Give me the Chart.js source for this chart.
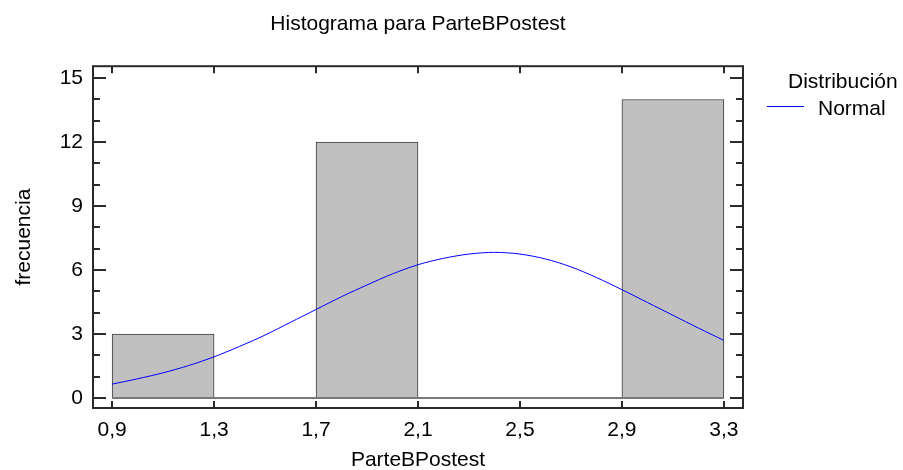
<!DOCTYPE html>
<html>
<head>
<meta charset="utf-8">
<script src="https://cdn.jsdelivr.net/npm/chart.js@4.4.1/dist/chart.umd.min.js"></script>
<style>
  html, body { margin: 0; padding: 0; background: #fff; }
  #wrap { width: 903px; height: 470px; }
</style>
</head>
<body>
<div id="wrap"><canvas id="histChart" width="903" height="470"></canvas></div>
<script>
// histogram bins (edges) and counts
const binEdges = [0.9, 1.3, 1.7, 2.1, 2.5, 2.9, 3.3];
const binCounts = [3, 0, 12, 0, 0, 14];

// fitted normal curve
const curveX = [0.9, 1.0, 1.1, 1.2, 1.3, 1.4, 1.5, 1.6, 1.7, 1.8, 1.9, 2.0, 2.1,
                2.2, 2.3, 2.4, 2.5, 2.6, 2.7, 2.8, 2.9, 3.0, 3.1, 3.2, 3.3];
const curveY = [0.65, 0.9, 1.18, 1.52, 1.93, 2.42, 2.95, 3.55, 4.15, 4.75, 5.3, 5.82, 6.25,
                6.55, 6.75, 6.83, 6.75, 6.52, 6.15, 5.65, 5.08, 4.48, 3.88, 3.28, 2.7];

// axis ticks
const xTicks = [0.9, 1.3, 1.7, 2.1, 2.5, 2.9, 3.3];
const yTicks = [0, 3, 6, 9, 12, 15];
const yMinorTicks = [0, 1, 2, 3, 4, 5, 6, 7, 8, 9, 10, 11, 12, 13, 14, 15];

const FONT = 'Arial, "Liberation Sans", sans-serif';
const legendTitle = 'Distribución';

// frame, inward ticks and the legend box on the right
const framePlugin = {
    id: 'frame',
    afterDatasetsDraw(chart) {
        const { ctx, chartArea: a, scales: { x, y } } = chart;
        ctx.save();
        ctx.strokeStyle = '#2a2a2a';
        ctx.lineWidth = 2;
        ctx.beginPath();
        yMinorTicks.forEach(v => {
            const py = Math.round(y.getPixelForValue(v));
            const len = yTicks.includes(v) ? 13 : 7;
            ctx.moveTo(a.left, py); ctx.lineTo(a.left + len, py);
            ctx.moveTo(a.right, py); ctx.lineTo(a.right - len, py);
        });
        xTicks.forEach(v => {
            const px = Math.round(x.getPixelForValue(v));
            ctx.moveTo(px, a.top); ctx.lineTo(px, a.top + 7);
            ctx.moveTo(px, a.bottom); ctx.lineTo(px, a.bottom - 7);
        });
        ctx.stroke();
        ctx.strokeRect(a.left, a.top, a.right - a.left, a.bottom - a.top);

        // legend
        const curve = chart.data.datasets.find(d => d.label === 'Normal');
        ctx.fillStyle = '#000';
        ctx.font = '21px ' + FONT;
        ctx.textAlign = 'left';
        ctx.textBaseline = 'alphabetic';
        ctx.fillText(legendTitle, 788, 88);
        ctx.fillText(curve.label, 818, 115);
        ctx.strokeStyle = curve.borderColor;
        ctx.lineWidth = 1;
        ctx.beginPath();
        ctx.moveTo(767, 106.5);
        ctx.lineTo(804, 106.5);
        ctx.stroke();
        ctx.restore();
    }
};

const ctx = document.getElementById('histChart').getContext('2d');
new Chart(ctx, {
    type: 'bar',
    data: {
        datasets: [
            {
                type: 'bar',
                label: 'frecuencia',
                data: binCounts.map((c, i) => ({ x: (binEdges[i] + binEdges[i + 1]) / 2, y: c })),
                backgroundColor: '#c0c0c0',
                borderColor: '#3c3c3c',
                borderWidth: 1,
                borderSkipped: false,
                barPercentage: 1,
                categoryPercentage: 1,
                order: 3
            },
            {
                type: 'line',
                label: 'base',
                data: [{ x: binEdges[0], y: 0 }, { x: binEdges[binEdges.length - 1], y: 0 }],
                borderColor: '#7a7a7a',
                borderWidth: 2,
                pointRadius: 0,
                order: 2
            },
            {
                type: 'line',
                label: 'Normal',
                data: curveX.map((v, i) => ({ x: v, y: curveY[i] })),
                borderColor: '#0000ff',
                borderWidth: 1,
                pointRadius: 0,
                tension: 0.3,
                order: 1
            }
        ]
    },
    options: {
        responsive: false,
        animation: false,
        events: [],
        layout: {
            padding: { left: 0, right: 160, top: 0, bottom: 0 }
        },
        plugins: {
            legend: { display: false },
            tooltip: { enabled: false },
            title: {
                display: true,
                text: 'Histograma para ParteBPostest',
                fullSize: false,
                color: '#000',
                font: { family: FONT, size: 21, weight: 'normal', lineHeight: 1.2 },
                padding: { top: 12, bottom: 29 }
            }
        },
        scales: {
            x: {
                type: 'linear',
                min: 0.825,
                max: 3.375,
                offset: false,
                grid: { display: false, drawTicks: false },
                border: { display: false },
                afterBuildTicks: s => { s.ticks = xTicks.map(v => ({ value: v })); },
                afterFit: s => { s.height = 62; },
                ticks: {
                    color: '#000',
                    font: { family: FONT, size: 21 },
                    padding: 10,
                    maxRotation: 0,
                    autoSkip: false,
                    callback: v => v.toFixed(1).replace('.', ',')
                },
                title: {
                    display: true,
                    text: 'ParteBPostest',
                    color: '#000',
                    font: { family: FONT, size: 21, lineHeight: 1 },
                    padding: { top: 0, bottom: -1 }
                }
            },
            y: {
                min: -0.47,
                max: 15.56,
                grid: { display: false, drawTicks: false },
                border: { display: false },
                afterBuildTicks: s => { s.ticks = yTicks.map(v => ({ value: v })); },
                afterFit: s => { s.width = 93; },
                ticks: {
                    color: '#000',
                    font: { family: FONT, size: 21 },
                    padding: 10,
                    callback: v => String(v)
                },
                title: {
                    display: true,
                    text: 'frecuencia',
                    color: '#000',
                    font: { family: FONT, size: 21, lineHeight: 1.2 },
                    padding: { top: 12, bottom: 0 }
                }
            }
        }
    },
    plugins: [framePlugin]
});
</script>
</body>
</html>
